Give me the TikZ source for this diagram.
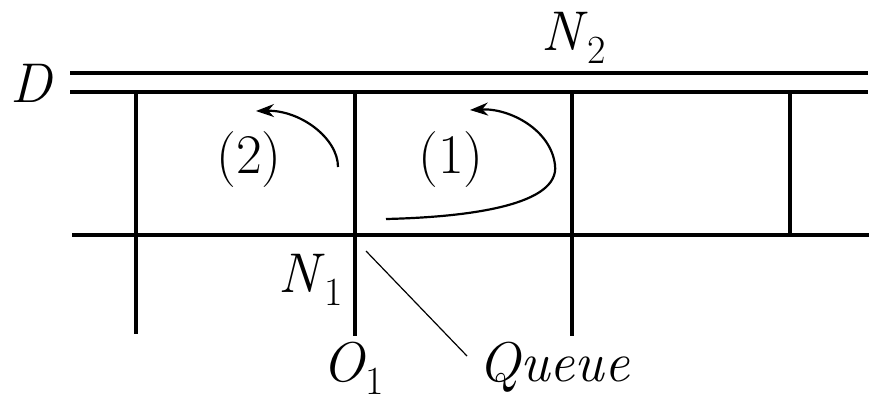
\documentclass[tikz,border=0pt]{standalone}
\usetikzlibrary{arrows.meta}
\newcommand{\lbl}[2]{\textit{#1}\raisebox{-13pt}{\fontsize{40}{42}\selectfont #2}}
\tikzset{
  grid/.style={line width=4.5pt},
  thingrid/.style={line width=3.5pt},
  turn/.style={line width=2.2pt,-{Stealth[length=18pt,width=13pt]}},
  leader/.style={line width=1.2pt},
  txt/.style={font=\fontsize{56}{60}\selectfont, inner sep=0pt, anchor=base west}
}
\begin{document}
\begin{tikzpicture}[x=1pt,y=-1pt]
\useasboundingbox (0,0) rectangle (869,405);
% boundary D (double line)
\draw[grid] (70,73) -- (868,73);
\draw[thingrid] (70,92) -- (355,92);
\draw[grid] (355,92) -- (868,92);
% middle line
\draw[grid] (72,235) -- (869,235);
% verticals
\draw[thingrid] (136,92) -- (136,334);
\draw[grid] (355,92) -- (355,336);
\draw[grid] (572,92) -- (572,336);
\draw[grid] (790,92) -- (790,235);
% labels
\node[txt] (D) at (10,102) {\textit{D}};
\node[txt] (N2) at (541,50) {\lbl{N}{2}};
\node[txt] (N1) at (278,292) {\lbl{N}{1}};
\node[txt] (O1) at (322,381) {\lbl{O}{1}};
\node[txt] (Q) at (478,381) {\textit{Queue}};
\node[txt] (t2) at (216,173) {(2)};
\node[txt] (t1) at (418,173) {(1)};
% turning movements
\coordinate (s1) at (386,219);
\coordinate (e1) at (470,110);
\draw[turn] (s1) .. controls (470,217) and (560,205) .. (555,165)
  .. controls (551,130) and (510,108) .. (e1);
\coordinate (s2) at (338,167);
\coordinate (e2) at (256,111);
\draw[turn] (s2) .. controls (338,138) and (300,110) .. (e2);
% queue leader
\coordinate (qp) at (366,251);
\draw[leader] (qp) -- (467,356);
\end{tikzpicture}
\end{document}
